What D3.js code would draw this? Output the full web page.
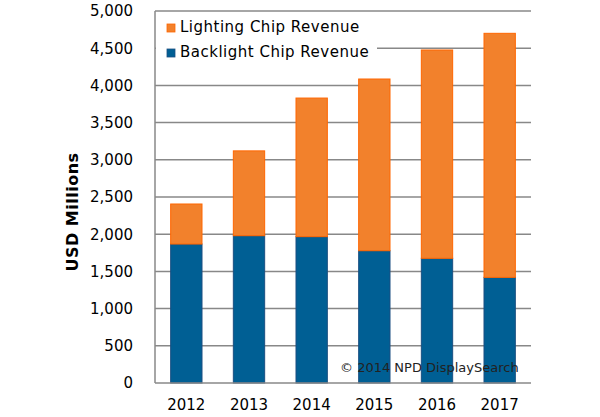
<!DOCTYPE html>
<html>
<head>
<meta charset="utf-8">
<script src="https://cdn.jsdelivr.net/npm/d3@7"></script>
<style>
  body { margin: 0; background: #fff; }
  text { font-family: "DejaVu Sans", Verdana, sans-serif; }
</style>
</head>
<body>
<svg id="chart" width="600" height="417"></svg>
<script>
var years = ["2012", "2013", "2014", "2015", "2016", "2017"];
var backlight = [1868, 1980, 1967, 1778, 1676, 1420];
var lighting = [538, 1140, 1863, 2308, 2800, 3280];
var yTicks = [0, 500, 1000, 1500, 2000, 2500, 3000, 3500, 4000, 4500, 5000];
var seriesNames = ["Lighting Chip Revenue", "Backlight Chip Revenue"];

var margin = {left: 155, right: 69, top: 11, bottom: 34},
    width = 600 - margin.left - margin.right,
    height = 417 - margin.top - margin.bottom;

var svg = d3.select("#chart");
var g = svg.append("g")
    .attr("transform", "translate(" + margin.left + "," + margin.top + ")");

var x = d3.scaleBand().domain(years).range([0, width]).paddingInner(0.5).paddingOuter(0.25);
var y = d3.scaleLinear().domain([0, 5000]).range([height, 0]);

// gridlines
g.selectAll("line.grid")
    .data(yTicks.slice(1))
    .enter().append("line")
    .attr("class", "grid")
    .attr("x1", 0).attr("x2", width)
    .attr("y1", function(d){ return y(d); })
    .attr("y2", function(d){ return y(d); })
    .style("stroke", "#888").style("stroke-width", 1.5);

// y tick labels
g.selectAll("text.ytick")
    .data(yTicks)
    .enter().append("text")
    .attr("class", "ytick")
    .attr("x", -22)
    .attr("y", function(d){ return y(d); })
    .attr("dy", "0.36em")
    .attr("text-anchor", "end")
    .style("font-size", "15px")
    .text(d3.format(","));

var stack = years.map(function(yr, i){
    return {year: yr, b: backlight[i], l: lighting[i]};
});

// backlight bars
g.selectAll("rect.back")
    .data(stack)
    .enter().append("rect")
    .attr("x", function(d){ return x(d.year); })
    .attr("width", x.bandwidth())
    .attr("y", function(d){ return y(d.b); })
    .attr("height", function(d){ return y(0) - y(d.b); })
    .style("fill", "#005f94")
    .style("stroke", "#1a4f82").style("stroke-width", 1);

// lighting bars
g.selectAll("rect.light")
    .data(stack)
    .enter().append("rect")
    .attr("x", function(d){ return x(d.year); })
    .attr("width", x.bandwidth())
    .attr("y", function(d){ return y(d.b + d.l); })
    .attr("height", function(d){ return y(d.b) - y(d.b + d.l); })
    .style("fill", "#f2812c")
    .style("stroke", "#ff6600").style("stroke-width", 1);

// axes lines
g.append("line")
    .attr("x1", 0).attr("x2", 0).attr("y1", 0).attr("y2", height)
    .style("stroke", "#888").style("stroke-width", 1.5);
g.append("line")
    .attr("x1", 0).attr("x2", width).attr("y1", height).attr("y2", height)
    .style("stroke", "#888").style("stroke-width", 1.5);

// x labels
g.selectAll("text.xtick")
    .data(years)
    .enter().append("text")
    .attr("x", function(d){ return x(d) + x.bandwidth() / 2; })
    .attr("y", height + 27)
    .attr("text-anchor", "middle")
    .style("font-size", "15px")
    .text(function(d){ return d; });

// y title
svg.append("text")
    .attr("transform", "translate(78," + (margin.top + height / 2 + 15) + ") rotate(-90)")
    .attr("text-anchor", "middle")
    .style("font-size", "16px")
    .style("font-weight", "bold")
    .style("letter-spacing", "0.5px")
    .text("USD Millions");

// legend
var legend = g.append("g");
legend.append("rect")
    .attr("x", 1).attr("y", 1)
    .attr("width", 221).attr("height", 56)
    .style("fill", "#fff");
var colors = ["#f2812c", "#005f94"];
var strokes = ["#ff6600", "#1a4f82"];
seriesNames.forEach(function(name, i){
    legend.append("rect")
        .attr("x", 12).attr("y", 13 + i * 25)
        .attr("width", 8).attr("height", 8)
        .style("fill", colors[i]).style("stroke", strokes[i]).style("stroke-width", 0.8);
    legend.append("text")
        .attr("x", 25).attr("y", 21 + i * 25)
        .style("font-size", "15px")
        .style("letter-spacing", "0.5px")
        .text(name);
});

// copyright
g.append("text")
    .attr("x", 185).attr("y", 361)
    .style("font-size", "13px")
    .style("fill", "#222")
    .text("\u00a9 2014 NPD DisplaySearch");
</script>
</body>
</html>
